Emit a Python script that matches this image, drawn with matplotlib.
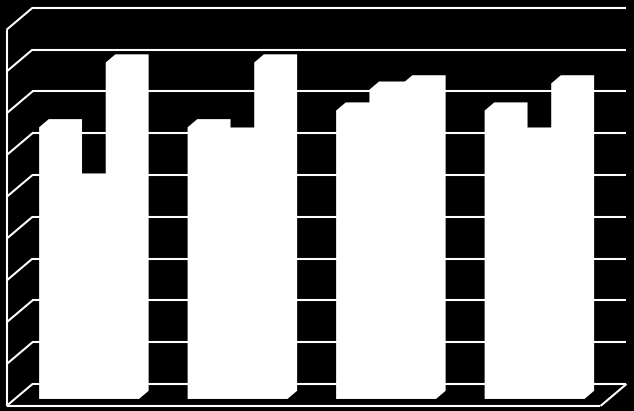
import matplotlib.pyplot as plt

# values (gridlines every 10)
categories = ["1", "2", "3", "4"]
series_a = [65, 65, 69, 69]
series_b = [52, 63, 74, 63]
series_c = [80.5, 80.5, 75.5, 75.5]
y_max = 90
y_step = 10

W, H = 634, 411
x0_px, cat_px = 80.75, 148.5   # pixel of category 0, pixels per category
y0_px, val_px = 406, 4.18      # pixel of floor front, pixels per value unit
ox = 26 / cat_px               # depth offset (oblique projection)
oy = 22 / val_px
z_front, z_back = 0.32, 0.69   # depth range of bars
bar_w = 33.3 / cat_px


def proj(x, y, z):
    return x + z * ox, y + z * oy


def seg(ax, p, q):
    ax.plot([p[0], q[0]], [p[1], q[1]], color="white", lw=1.5,
            solid_capstyle="butt", zorder=1)


fig = plt.figure(figsize=(W / 100, H / 100), dpi=100, facecolor="black")
ax = fig.add_axes([0, 0, 1, 1])
ax.set_facecolor("black")
ax.set_xlim(-x0_px / cat_px, (W - x0_px) / cat_px)
ax.set_ylim(-(H - y0_px) / val_px, y0_px / val_px)
ax.axis("off")

n = len(categories)
xl, xr = -0.5, n - 0.5

# walls and grid
for v in range(0, y_max + 1, y_step):
    seg(ax, proj(xl, v, 1), proj(xr, v, 1))
    seg(ax, proj(xl, v, 1), proj(xl, v, 0))
seg(ax, proj(xl, 0, 0), proj(xl, y_max, 0))
seg(ax, proj(xl, 0, 0), proj(xr, 0, 0))
seg(ax, proj(xr, 0, 1), proj(xr, 0, 0))

# bars
for i in range(n):
    start = i - 1.5 * bar_w
    for j, vals in enumerate([series_a, series_b, series_c]):
        x0 = start + j * bar_w
        x1 = x0 + bar_w
        h = vals[i]
        pts = [proj(x0, 0, z_front), proj(x1, 0, z_front), proj(x1, 0, z_back),
               proj(x1, h, z_back), proj(x0, h, z_back), proj(x0, h, z_front)]
        ax.fill([p[0] for p in pts], [p[1] for p in pts], color="white",
                lw=0, zorder=2 + j)

fig.savefig("out.png", dpi=100, facecolor="black")
